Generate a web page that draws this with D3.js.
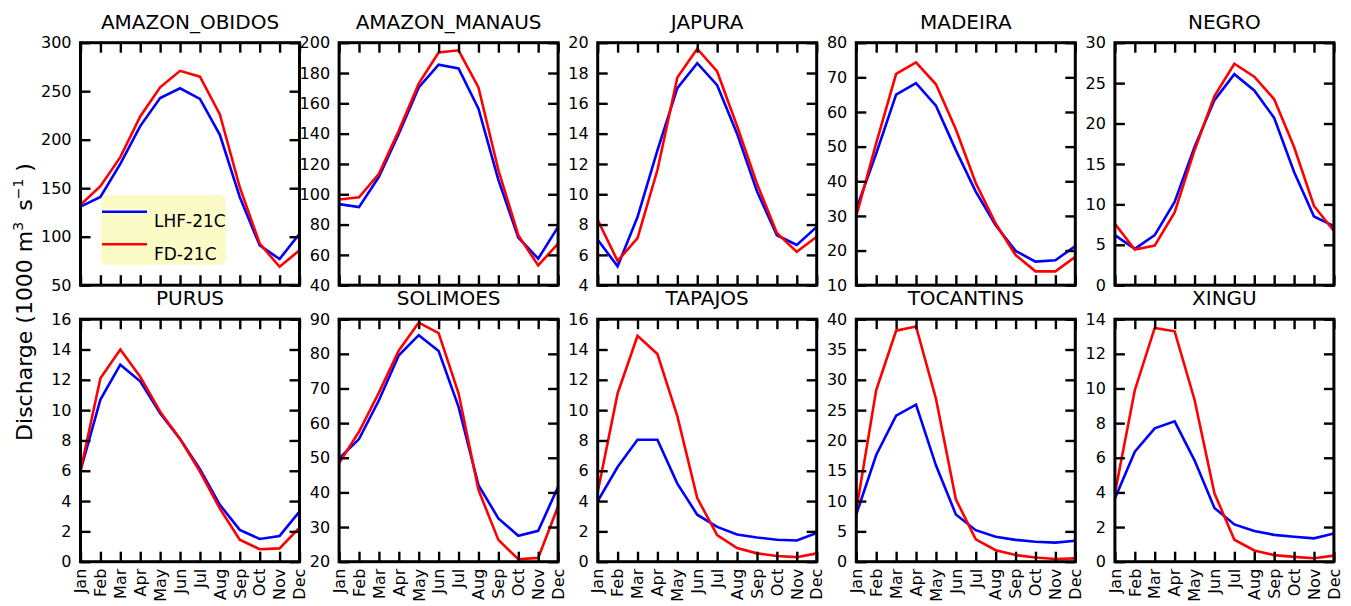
<!DOCTYPE html>
<html>
<head>
<meta charset="utf-8">
<script src="https://cdn.jsdelivr.net/npm/d3@7"></script>
<style>
  html, body { margin: 0; padding: 0; background: #fff; }
  svg { display: block; font-family: "DejaVu Sans", sans-serif; }
</style>
</head>
<body>
<svg id="chart" width="1351" height="606"></svg>
<script>
// ---------------- DATA ----------------
const months = ["Jan","Feb","Mar","Apr","May","Jun","Jul","Aug","Sep","Oct","Nov","Dec"];
const seriesNames = ["LHF-21C", "FD-21C"];
const rivers = ["AMAZON_OBIDOS","AMAZON_MANAUS","JAPURA","MADEIRA","NEGRO",
                "PURUS","SOLIMOES","TAPAJOS","TOCANTINS","XINGU"];

const lhfObidos    = [131, 141, 175, 214, 243, 253, 242, 205, 141, 91, 77, 103];
const fdObidos     = [133, 152, 182, 224, 254, 271, 265, 226, 151, 93, 69, 86];
const lhfManaus    = [93.5, 91.5, 111.5, 140, 170.5, 185.5, 183, 156.5, 109.5, 71.5, 57.5, 78.5];
const fdManaus     = [96.5, 98, 113.5, 142, 173, 193.5, 195, 170.5, 116, 73, 53, 67.5];
const lhfJapura    = [7.0, 5.25, 8.5, 12.9, 17, 18.65, 17.2, 14, 10.2, 7.3, 6.65, 7.85];
const fdJapura     = [8.3, 5.6, 7.1, 11.6, 17.7, 19.6, 18.1, 14.5, 10.7, 7.45, 6.2, 7.2];
const lhfMadeira   = [32, 48, 65, 68.3, 61.8, 49, 37, 27.3, 19.9, 16.8, 17.2, 21.3];
const fdMadeira    = [30, 51, 71, 74.3, 68, 55, 39.5, 27.8, 18.7, 14, 14, 18.2];
const lhfNegro     = [6.2, 4.5, 6.2, 10.3, 17.1, 22.9, 26.1, 24.1, 20.7, 14, 8.5, 7.3];
const fdNegro      = [7.6, 4.4, 4.9, 9.0, 16.7, 23.4, 27.4, 25.8, 23, 17.1, 9.8, 6.7];
const lhfPurus     = [6.0, 10.7, 13.0, 11.9, 9.8, 8.1, 6.1, 3.75, 2.1, 1.5, 1.7, 3.3];
const fdPurus      = [6.0, 12.1, 14.0, 12.2, 9.9, 8.1, 5.95, 3.5, 1.45, 0.82, 0.88, 2.25];
const lhfSolimoes  = [49.8, 55.4, 66.6, 79.6, 85.4, 80.8, 64.7, 42.1, 32.5, 27.5, 28.9, 41.6];
const fdSolimoes   = [48.5, 57.5, 68.8, 81, 89, 86, 68.6, 40.7, 26.3, 20.7, 21.1, 36];
const lhfTapajos   = [4.0, 6.25, 8.05, 8.05, 5.15, 3.1, 2.3, 1.8, 1.6, 1.45, 1.4, 1.9];
const fdTapajos    = [4.6, 11.1, 14.9, 13.7, 9.6, 4.2, 1.75, 0.9, 0.55, 0.38, 0.3, 0.55];
const lhfTocantins = [7.8, 17.6, 24.1, 25.9, 15.9, 7.8, 5.2, 4.1, 3.6, 3.3, 3.15, 3.45];
const fdTocantins  = [8.5, 28.3, 38.1, 38.8, 26.9, 10.3, 3.7, 1.9, 1.1, 0.7, 0.45, 0.55];
const lhfXingu     = [3.65, 6.35, 7.7, 8.1, 5.85, 3.1, 2.15, 1.77, 1.55, 1.44, 1.35, 1.63];
const fdXingu      = [3.95, 9.9, 13.5, 13.3, 9.35, 3.95, 1.27, 0.65, 0.38, 0.28, 0.2, 0.35];

const ticksObidos    = [50, 100, 150, 200, 250, 300];
const ticksManaus    = [40, 60, 80, 100, 120, 140, 160, 180, 200];
const ticksJapura    = [4, 6, 8, 10, 12, 14, 16, 18, 20];
const ticksMadeira   = [10, 20, 30, 40, 50, 60, 70, 80];
const ticksNegro     = [0, 5, 10, 15, 20, 25, 30];
const ticksPurus     = [0, 2, 4, 6, 8, 10, 12, 14, 16];
const ticksSolimoes  = [20, 30, 40, 50, 60, 70, 80, 90];
const ticksTapajos   = [0, 2, 4, 6, 8, 10, 12, 14, 16];
const ticksTocantins = [0, 5, 10, 15, 20, 25, 30, 35, 40];
const ticksXingu     = [0, 2, 4, 6, 8, 10, 12, 14];

const lhfAll   = [lhfObidos, lhfManaus, lhfJapura, lhfMadeira, lhfNegro,
                  lhfPurus, lhfSolimoes, lhfTapajos, lhfTocantins, lhfXingu];
const fdAll    = [fdObidos, fdManaus, fdJapura, fdMadeira, fdNegro,
                  fdPurus, fdSolimoes, fdTapajos, fdTocantins, fdXingu];
const ticksAll = [ticksObidos, ticksManaus, ticksJapura, ticksMadeira, ticksNegro,
                  ticksPurus, ticksSolimoes, ticksTapajos, ticksTocantins, ticksXingu];

// ---------------- LAYOUT ----------------
const colors = ["#0000ff", "#ff0000"];
const panelW = 219, panelH = 242.5;
const left0 = 80.5, stepX = 258.6;
const rowTops = [42.7, 319.2];
const tickFont = 16;

const svg = d3.select("#chart");

rivers.forEach((name, i) => {
  const col = i % 5, row = Math.floor(i / 5);
  const x0 = left0 + col * stepX, y0 = rowTops[row];
  const ticks = ticksAll[i];
  const x = d3.scaleLinear().domain([0, 11]).range([0, panelW]);
  const y = d3.scaleLinear().domain([ticks[0], ticks[ticks.length - 1]]).range([panelH, 0]);

  const g = svg.append("g").attr("transform", `translate(${x0},${y0})`);

  const clipId = "clip" + i;
  g.append("clipPath").attr("id", clipId)
    .append("rect").attr("width", panelW).attr("height", panelH);

  // lines
  const line = d3.line().x((d, k) => x(k)).y(d => y(d));
  [lhfAll[i], fdAll[i]].forEach((vals, s) => {
    g.append("path").datum(vals)
      .attr("clip-path", `url(#${clipId})`)
      .attr("fill", "none")
      .attr("stroke", colors[s])
      .attr("stroke-width", 2.6)
      .attr("stroke-linejoin", "miter")
      .attr("d", line);
  });

  // axes with inward ticks
  const xi = d3.range(12);
  const axL = d3.axisLeft(y).tickValues(ticks).tickSize(-10).tickPadding(9).tickSizeOuter(0);
  const axR = d3.axisRight(y).tickValues(ticks).tickSize(-10).tickFormat("").tickSizeOuter(0);
  const axT = d3.axisTop(x).tickValues(xi).tickSize(-10).tickFormat("").tickSizeOuter(0);
  const axB = d3.axisBottom(x).tickValues(xi).tickSize(-10).tickFormat("").tickSizeOuter(0);

  const gl = g.append("g").call(axL);
  const gr = g.append("g").attr("transform", `translate(${panelW},0)`).call(axR);
  const gt = g.append("g").call(axT);
  const gb = g.append("g").attr("transform", `translate(0,${panelH})`).call(axB);
  [gl, gr, gt, gb].forEach(a => {
    a.select(".domain").remove();
    a.selectAll(".tick line").attr("stroke", "#000").attr("stroke-width", 2.4);
  });
  gl.selectAll(".tick text")
    .attr("font-size", tickFont)
    .attr("font-family", "DejaVu Sans")
    .attr("fill", "#000");

  // frame
  g.append("rect").attr("width", panelW).attr("height", panelH)
    .attr("fill", "none").attr("stroke", "#000").attr("stroke-width", 3);

  // title
  g.append("text").attr("x", panelW / 2).attr("y", -14)
    .attr("text-anchor", "middle").attr("font-size", 20).attr("fill", "#000")
    .text(name);

  // month labels (bottom row only)
  if (row === 1) {
    months.forEach((m, k) => {
      g.append("g").attr("transform", `translate(${x(k)},${panelH + 7}) rotate(-90)`)
        .append("text").attr("text-anchor", "end").attr("dy", "0.36em")
        .attr("font-size", tickFont).attr("fill", "#000").text(m);
    });
  }

  // legend in first panel
  if (i === 0) {
    const lg = g.append("g").attr("transform", `translate(${101 - x0},${195 - y0})`);
    lg.append("rect").attr("width", 125).attr("height", 70).attr("rx", 6)
      .attr("fill", "#fbfbc8");
    seriesNames.forEach((s, k) => {
      const ly = 16.7 + k * 32.6;
      lg.append("line").attr("x1", 1).attr("x2", 46).attr("y1", ly).attr("y2", ly)
        .attr("stroke", colors[k]).attr("stroke-width", 2.6);
      lg.append("text").attr("x", 53).attr("y", ly + 15.5)
        .attr("font-size", 17).attr("fill", "#000").text(s);
    });
  }
});

// y-axis label
const yl = svg.append("text")
  .attr("transform", "translate(32,302) rotate(-90)")
  .attr("text-anchor", "middle")
  .attr("font-size", 22)
  .attr("fill", "#000");
yl.append("tspan").text("Discharge (1000 m");
yl.append("tspan").attr("font-size", 14).attr("dy", -9).text("3");
yl.append("tspan").attr("dy", 9).text("\u2002s");
yl.append("tspan").attr("font-size", 14).attr("dy", -9).text("\u22121");
yl.append("tspan").attr("dy", 9).text(" )");
</script>
</body>
</html>
